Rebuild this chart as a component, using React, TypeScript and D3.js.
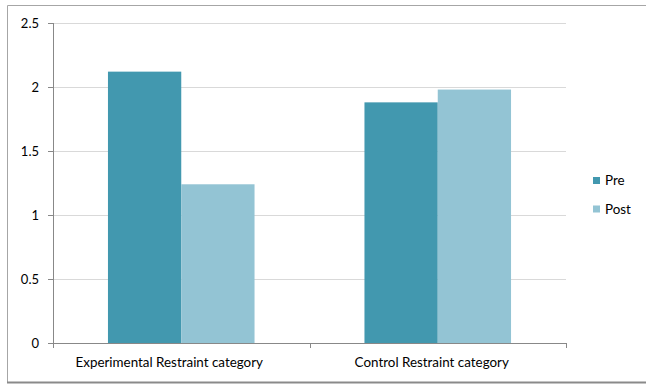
import React from "react";
import * as d3 from "d3";

const categories = ["Experimental Restraint category", "Control Restraint category"];
const seriesNames = ["Pre", "Post"];
const preValues = [2.12, 1.88];
const postValues = [1.24, 1.98];
const yTicks = [0, 0.5, 1, 1.5, 2, 2.5];
const yTickLabels = ["0", "0.5", "1", "1.5", "2", "2.5"];

const W = 646;
const H = 385;
const colors = ["#4298AF", "#93C4D4"];
const font = "Lato, 'Open Sans', sans-serif";
// small leftward nudge applied to each category label
const labelNudge = [12, 6];

export default function App() {
  const plot = { left: 53, right: 566, top: 23, bottom: 343 };

  const x0 = d3.scaleBand<string>().domain(categories).range([plot.left, plot.right]).padding(0);
  const bw = x0.bandwidth();
  const groupW = (bw * 2) / 3.5;
  const x1 = d3.scaleBand<string>().domain(seriesNames).range([0, groupW]).padding(0);
  const y = d3.scaleLinear().domain([0, 2.5]).range([plot.bottom, plot.top]);

  const values = [preValues, postValues];

  return (
    <div style={{ position: "fixed", left: 0, top: 0 }}>
      <svg width={W} height={H} style={{ display: "block", background: "#fff" }}>
        {/* outer chart frame (left, top, bottom shadow) */}
        <path d="M7.5,382 V5.5 H646" fill="none" stroke="#a6a6a6" strokeWidth={1} />
        <line x1={7} x2={646} y1={382.5} y2={382.5} stroke="#8a8a8a" strokeWidth={2} />

        {/* gridlines */}
        {yTicks.slice(1).map((t) => (
          <line key={t} x1={plot.left} x2={plot.right} y1={Math.round(y(t)) + 0.5} y2={Math.round(y(t)) + 0.5} stroke="#d9d9d9" strokeWidth={1} />
        ))}

        {/* bars */}
        {categories.map((c, ci) =>
          seriesNames.map((s, si) => {
            const v = values[si][ci];
            const bx = (x0(c) ?? 0) + (bw - groupW) / 2 + (x1(s) ?? 0);
            return (
              <rect key={c + s} x={bx} y={y(v)} width={x1.bandwidth()} height={plot.bottom - y(v)} fill={colors[si]} />
            );
          })
        )}

        {/* y axis */}
        <line x1={plot.left + 0.5} x2={plot.left + 0.5} y1={plot.top} y2={plot.bottom} stroke="#888" />
        {yTicks.map((t, i) => (
          <g key={t}>
            <line x1={plot.left - 5} x2={plot.left} y1={Math.round(y(t)) + 0.5} y2={Math.round(y(t)) + 0.5} stroke="#888" />
            <text x={39} y={y(t)} dy="0.35em" textAnchor="end" fontFamily={font} fontSize={13} fill="#000">
              {yTickLabels[i]}
            </text>
          </g>
        ))}

        {/* x axis */}
        <line x1={plot.left} x2={plot.right} y1={plot.bottom + 0.5} y2={plot.bottom + 0.5} stroke="#888" />
        {[...categories.map((c) => x0(c) ?? 0), plot.right].map((px, i) => (
          <line key={i} x1={Math.round(px) + 0.5} x2={Math.round(px) + 0.5} y1={plot.bottom} y2={plot.bottom + 5} stroke="#888" />
        ))}
        {categories.map((c, i) => (
          <text key={c} x={(x0(c) ?? 0) + bw / 2 - labelNudge[i]} y={367} textAnchor="middle" fontFamily={font} fontSize={13.4} fill="#000">
            {c}
          </text>
        ))}

        {/* legend */}
        {seriesNames.map((s, i) => (
          <g key={s} transform={`translate(593, ${177 + i * 28.5})`}>
            <rect x={0} y={0} width={7} height={7} fill={colors[i]} />
            <text x={12} y={3.5} dy="0.35em" fontFamily={font} fontSize={13.4} fill="#000">
              {s}
            </text>
          </g>
        ))}
      </svg>
    </div>
  );
}
